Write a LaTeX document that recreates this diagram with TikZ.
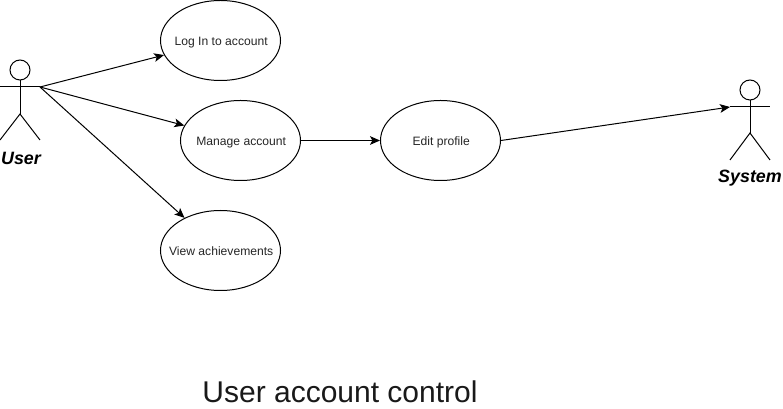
\documentclass[tikz,border=0pt]{standalone}
\usepackage{fontspec}
\setmainfont{Liberation Sans}
\usetikzlibrary{arrows.meta,shapes.geometric}
\newcommand{\uctext}[1]{\makebox[0pt][c]{\smash{\raisebox{-3.6pt}{\hspace{1pt}#1}}}}
\tikzset{
  x=0.75pt,y=-0.75pt,
  usecase/.style={draw=black,ellipse,minimum width=90pt,minimum height=60pt,inner sep=0pt,line width=0.75pt,font=\fontsize{9.1pt}{11pt}\selectfont,text=black!85},
  limb/.style={draw=black,line width=0.75pt},
  link/.style={draw=black,line width=0.75pt,-{Stealth[length=7.5pt,width=6.5pt,inset=1.8pt]}},
  actorname/.style={font=\fontsize{13.4pt}{15pt}\selectfont\bfseries\itshape,inner sep=0pt},
  titletext/.style={font=\fontsize{22.5pt}{26pt}\selectfont,inner sep=0pt,text=black!90},
  head/.style={circle,draw=black,line width=0.75pt,minimum size=15pt,inner sep=0pt}
}
\begin{document}
\begin{tikzpicture}
\useasboundingbox (0,0) rectangle (783,409);
\fill[white] (0,0) rectangle (783,409);
% use cases
\node[usecase] (login) at (220.5,40.5) {\uctext{Log In to account}};
\node[usecase] (manage) at (240.5,140.5) {\uctext{Manage account}};
\node[usecase] (view) at (220.5,250.5) {\uctext{View achievements}};
\node[usecase] (edit) at (440.5,140.5) {\uctext{Edit profile}};
% user actor
\node[head] (uhead) at (20,70) {};
\coordinate (uhip) at (20,114);
\coordinate (uarmL) at (0,87);
\coordinate (uarmR) at (40,87);
\coordinate (ufootL) at (0,140);
\coordinate (ufootR) at (40,140);
\draw[limb] (uhead) -- (uhip);
\draw[limb] (uarmL) -- (uarmR);
\draw[limb] (ufootL) -- (uhip) -- (ufootR);
\node[actorname] (uname) at (21,158) {User};
% system actor
\node[head] (shead) at (750,90) {};
\coordinate (ship) at (750,133);
\coordinate (sarmL) at (730,107);
\coordinate (sarmR) at (770,107);
\coordinate (sfootL) at (730,160);
\coordinate (sfootR) at (770,160);
\draw[limb] (shead) -- (ship);
\draw[limb] (sarmL) -- (sarmR);
\draw[limb] (sfootL) -- (ship) -- (sfootR);
\node[actorname] (sname) at (750,178) {System};
% connectors
\draw[link] (uarmR) -- (login);
\draw[link] (uarmR) -- (manage);
\draw[link] (uarmR) -- (view);
\draw[link] (manage) -- (edit);
\draw[link] (edit.east) -- (sarmL);
% title
\node[titletext] (title) at (340,392) {User account control};
\end{tikzpicture}
\end{document}
